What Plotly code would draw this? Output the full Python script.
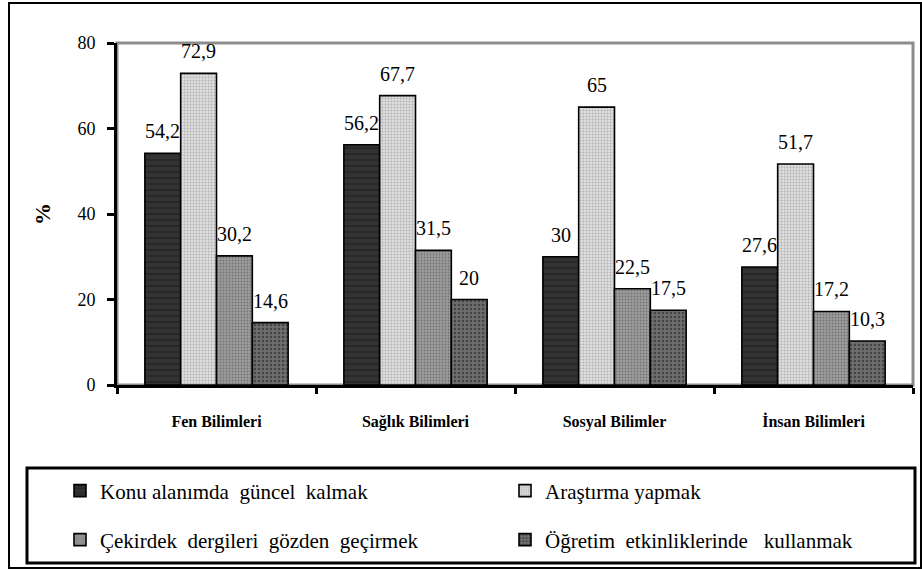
import plotly.graph_objects as go

# data
categories = ["Fen Bilimleri", "Sağlık Bilimleri", "Sosyal Bilimler", "İnsan Bilimleri"]
series_names = [
    "Konu alanımda  güncel  kalmak",
    "Araştırma yapmak",
    "Çekirdek  dergileri  gözden  geçirmek",
    "Öğretim  etkinliklerinde   kullanmak",
]
konu = [54.2, 56.2, 30, 27.6]
arastirma = [72.9, 67.7, 65, 51.7]
cekirdek = [30.2, 31.5, 22.5, 17.2]
ogretim = [14.6, 20, 17.5, 10.3]
y_ticks = [0, 20, 40, 60, 80]

SERIF = "Liberation Serif"

# plot area in pixels (used to turn pixel spots into paper coords)
PL, PR, PT, PB = 117, 913, 43, 385


def px_x(px):
    return (px - PL) / (PR - PL)


def px_y(py):
    return (PB - py) / (PB - PT)


# fill look for each series: (background, pattern colour, shape, size)
styles = [
    ("#333333", "#262626", "-", 6),
    ("#dedede", "#b0b0b0", ".", 3),
    ("#9c9c9c", "#747474", ".", 3),
    ("#6e6e6e", "#444444", ".", 4),
]
# legend slots: (text start x px, row centre y px)
legend_spots = [(100, 491), (545, 491), (100, 540), (545, 540)]

fig = go.Figure()
all_values = [konu, arastirma, cekirdek, ogretim]
for k, (name, vals, (bg, fg, shape, size)) in enumerate(zip(series_names, all_values, styles)):
    fig.add_trace(go.Bar(
        name=name,
        x=categories,
        y=vals,
        legend="legend" if k == 0 else f"legend{k + 1}",
        marker=dict(
            color=bg,
            line=dict(color="black", width=1.6),
            pattern=dict(shape=shape, bgcolor=bg, fgcolor=fg, size=size,
                         solidity=0.3, fillmode="replace"),
        ),
        hoverinfo="skip",
    ))

# value labels above each bar (Excel style, comma decimals)
bargap = 0.28
bar_w = (1 - bargap) / len(all_values)
for j, vals in enumerate(all_values):
    off = (j - (len(all_values) - 1) / 2) * bar_w
    for i, v in enumerate(vals):
        fig.add_annotation(
            x=i + off, y=v, xref="x", yref="y",
            text=f"{v:g}".replace(".", ","),
            showarrow=False, yanchor="bottom", yshift=9,
            font=dict(family=SERIF, size=20, color="black"),
        )

# "%" axis title
fig.add_annotation(
    x=px_x(42), y=0.5, xref="paper", yref="paper", text="<b>%</b>",
    xanchor="center", yanchor="middle",
    showarrow=False, textangle=-90,
    font=dict(family=SERIF, size=22, color="black"),
)

shapes = [
    # plot area frame (grey top/right)
    dict(type="rect", xref="paper", yref="paper", x0=0, y0=0, x1=1, y1=1,
         line=dict(color="#8c8c8c", width=3), layer="below"),
    # legend box
    dict(type="rect", xref="paper", yref="paper", x0=px_x(27), y0=px_y(563), x1=px_x(915), y1=px_y(468),
         line=dict(color="black", width=3)),
    # outer chart border
    dict(type="rect", xref="paper", yref="paper", x0=px_x(9), y0=px_y(568), x1=px_x(921), y1=px_y(3),
         line=dict(color="black", width=2)),
]

legends = {}
for k, (tx, ty) in enumerate(legend_spots):
    key = "legend" if k == 0 else f"legend{k + 1}"
    legends[key] = dict(
        x=px_x(tx - 40), y=px_y(ty), xanchor="left", yanchor="middle",
        orientation="h", itemwidth=30, bgcolor="rgba(0,0,0,0)",
        font=dict(family=SERIF, size=21, color="black"),
    )

fig.update_layout(
    width=922, height=571,
    margin=dict(l=PL, r=922 - PR, t=PT, b=571 - PB, autoexpand=False),
    paper_bgcolor="white", plot_bgcolor="white",
    font=dict(family=SERIF, color="black"),
    barmode="group", bargap=bargap, bargroupgap=0,
    showlegend=True,
    shapes=shapes,
    xaxis=dict(
        type="category", showgrid=False, showline=True, linecolor="black", linewidth=3,
        ticks="outside", tickson="boundaries", ticklen=6, tickwidth=3, tickcolor="black",
        ticklabelstandoff=20,
        tickfont=dict(family=SERIF, size=16, color="black", weight="bold"),
    ),
    yaxis=dict(
        range=[0, 80], tickvals=y_ticks, showgrid=False, zeroline=False,
        showline=True, linecolor="black", linewidth=3,
        ticks="outside", ticklen=7, tickwidth=3, tickcolor="black",
        ticklabelstandoff=8,
        tickfont=dict(family=SERIF, size=18, color="black"),
    ),
    **legends,
)

# page body has an 8px default margin; drop it so the figure sits at (0, 0)
fig.write_html("out.html", config={"displayModeBar": False},
               post_script="document.body.style.margin='0';")
